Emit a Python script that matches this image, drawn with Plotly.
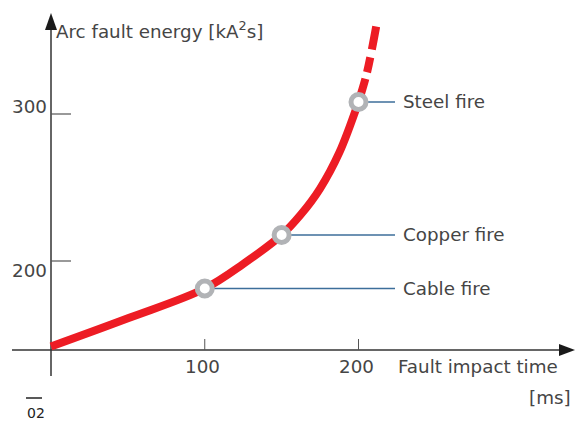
import plotly.graph_objects as go

# ---- data ----
curve_x = [0, 50, 100, 125, 150, 162.5, 175, 187.5, 200]
curve_y = [141.8, 161, 181.3, 198, 217.7, 231.6, 249.3, 273.7, 308.2]
dash_x = [200, 205, 209, 211.5]
dash_y = [308.2, 326, 345.6, 359.5]
fire_names = ["Cable fire", "Copper fire", "Steel fire"]
fire_x = [100, 150, 200]
fire_y = [181.3, 217.7, 308.2]
x_ticks = [100, 200]
y_ticks = [200, 300]

# ---- scale helpers (pixel <-> data) ----
W, H = 587, 423
X0PX, XS = 51, 1.5375
Y200PX, YS = 261, 1.47
def px2x(px): return (px - X0PX) / XS
def py2y(py): return 200 + (Y200PX - py) / YS

AX = "#333333"
TXT = "#454545"
RED = "#ED1C24"
BLUE = "#3C6E9A"
GRAY = "#B1B3B6"
FONT = "DejaVu Sans"

fig = go.Figure()

fig.add_trace(go.Scatter(x=curve_x, y=curve_y, mode="lines",
                         line=dict(color=RED, width=8, shape="spline", smoothing=1.0),
                         hoverinfo="skip", showlegend=False))
fig.add_trace(go.Scatter(x=dash_x, y=dash_y, mode="lines",
                         line=dict(color=RED, width=8, dash="24px,7px,15px,8px,24px,20px",
                                   shape="spline"),
                         hoverinfo="skip", showlegend=False))
fig.add_trace(go.Scatter(x=fire_x, y=fire_y, mode="markers",
                         marker=dict(size=15, color="white", line=dict(color=GRAY, width=5)),
                         hoverinfo="skip", showlegend=False))

shapes = []
x_axis_y = py2y(350)
y_axis_x = px2x(51)
# axes lines
shapes.append(dict(type="line", x0=px2x(12), x1=px2x(565), y0=x_axis_y, y1=x_axis_y,
                   line=dict(color=AX, width=1.5), layer="below"))
shapes.append(dict(type="line", x0=y_axis_x, x1=y_axis_x, y0=py2y(376), y1=py2y(25),
                   line=dict(color=AX, width=1.5), layer="below"))
# arrow heads
shapes.append(dict(type="path",
                   path=f"M {px2x(575)},{x_axis_y} L {px2x(559)},{py2y(344)} L {px2x(559)},{py2y(356)} Z",
                   fillcolor="#1a1a1a", line=dict(width=0)))
shapes.append(dict(type="path",
                   path=f"M {y_axis_x},{py2y(13)} L {px2x(45)},{py2y(30)} L {px2x(57)},{py2y(30)} Z",
                   fillcolor="#1a1a1a", line=dict(width=0)))
# ticks
for t in x_ticks:
    shapes.append(dict(type="line", x0=t, x1=t, y0=x_axis_y, y1=py2y(339),
                       line=dict(color="#555555", width=1), layer="below"))
for t in y_ticks:
    shapes.append(dict(type="line", x0=y_axis_x, x1=px2x(71), y0=t, y1=t,
                       line=dict(color="#555555", width=1.2), layer="below"))
# leader lines
for fx, fy in zip(fire_x, fire_y):
    shapes.append(dict(type="line", x0=fx, x1=px2x(395), y0=fy, y1=fy,
                       line=dict(color=BLUE, width=1.5), layer="below"))
# small legend dash
shapes.append(dict(type="line", x0=px2x(26), x1=px2x(42), y0=py2y(398), y1=py2y(398),
                   line=dict(color="#222222", width=1.5)))

ann = []
def A(text, x, y, xa, size=18.3, color=TXT):
    ann.append(dict(text=text, x=x, y=y, xref="x", yref="y", xanchor=xa, yanchor="middle",
                    showarrow=False, font=dict(family=FONT, size=size, color=color)))

for name, fy in zip(fire_names, fire_y):
    A(name, px2x(401), fy, "left")
A("Arc fault energy [kA<sup>2</sup>s]", px2x(54), py2y(30), "left")
A("Fault impact time", px2x(396), py2y(366), "left")
A("[ms]", px2x(573), py2y(397), "right")
for t in x_ticks:
    A(str(t), t - 1.5, py2y(366), "center")
A(str(y_ticks[1]), px2x(49), py2y(106), "right")
A(str(y_ticks[0]), px2x(49), py2y(270), "right")
A("02", px2x(25), py2y(413), "left", size=14, color="#222222")

fig.update_layout(
    width=W, height=H, autosize=False,
    margin=dict(l=0, r=0, t=0, b=0, pad=0),
    paper_bgcolor="white", plot_bgcolor="white",
    xaxis=dict(range=[px2x(0), px2x(W)], visible=False, fixedrange=True),
    yaxis=dict(range=[py2y(H), py2y(0)], visible=False, fixedrange=True),
    shapes=shapes, annotations=ann, showlegend=False,
)
fig.write_html("out.html", config={"displayModeBar": False},
               post_script="document.body.style.margin='0px';document.body.style.overflow='hidden';")
